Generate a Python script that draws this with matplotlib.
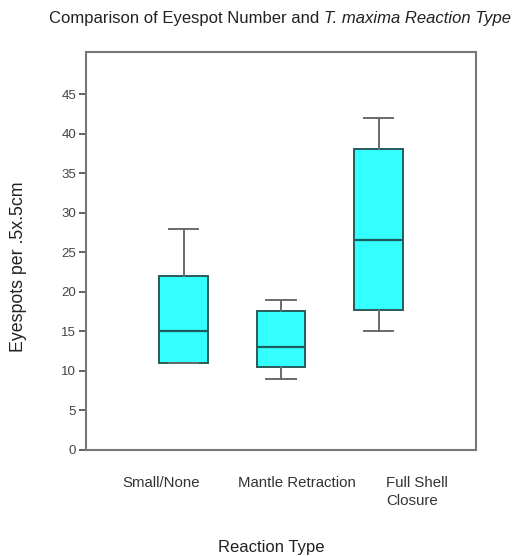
import matplotlib.pyplot as plt

plt.rcParams['font.family'] = ['Liberation Sans', 'DejaVu Sans']

# data
categories = ['Small/None', 'Mantle Retraction', 'Full Shell\nClosure']
whislo = [11, 9, 15]
q1 = [11, 10.5, 17.7]
med = [15, 13, 26.5]
q3 = [22, 17.5, 38]
whishi = [28, 19, 42]
yticks = [0, 5, 10, 15, 20, 25, 30, 35, 40, 45]

stats = []
for i in range(len(categories)):
    stats.append({'whislo': whislo[i], 'q1': q1[i], 'med': med[i],
                  'q3': q3[i], 'whishi': whishi[i], 'fliers': []})

fig = plt.figure(figsize=(5.18, 5.56), dpi=100)
ax = fig.add_axes([0.166, 0.191, 0.753, 0.715])

ax.bxp(stats, positions=[1, 2, 3], widths=0.5, patch_artist=True,
       showfliers=False,
       boxprops=dict(facecolor='#33ffff', edgecolor='#2a5a5a', linewidth=1.4),
       medianprops=dict(color='#1f5c5c', linewidth=1.6),
       whiskerprops=dict(color='#6a6a6a', linewidth=1.4),
       capprops=dict(color='#6a6a6a', linewidth=1.4),
       capwidths=0.3)

ax.set_xlim(0, 4)
ax.set_ylim(0, 50.3)
ax.set_yticks(yticks)
ax.set_xticks([])
ax.tick_params(axis='y', direction='out', length=5, width=1.3, pad=2,
               colors='#555555', labelsize=9.5, labelcolor='#444444')
for s in ax.spines.values():
    s.set_color('#777777')
    s.set_linewidth(1.5)

# category labels sit below the frame, not centred on the boxes
lab_x = [0.77, 2.16, 3.08]
lab_ha = ['center', 'center', 'left']
for x, t, ha in zip(lab_x, categories, lab_ha):
    ax.text(x, -0.065, t, transform=ax.get_xaxis_transform(), ha=ha,
            va='top', fontsize=10.8, color='#333333', linespacing=1.4)

fig.text(0.524, 0.002, 'Reaction Type', ha='center', va='bottom',
         fontsize=12, color='#222222')
fig.text(0.035, 0.52, 'Eyespots per .5x.5cm', rotation=90, ha='center',
         va='center', fontsize=12.8, color='#222222')

t1 = fig.text(0.094, 0.958, 'Comparison of Eyespot Number and ', ha='left',
              va='baseline', fontsize=12, color='#222222')
ax.annotate('T. maxima Reaction Type', xy=(1, 0), xycoords=t1,
            ha='left', va='bottom', fontsize=12, style='italic',
            color='#222222')

fig.savefig('out.png', dpi=100)
